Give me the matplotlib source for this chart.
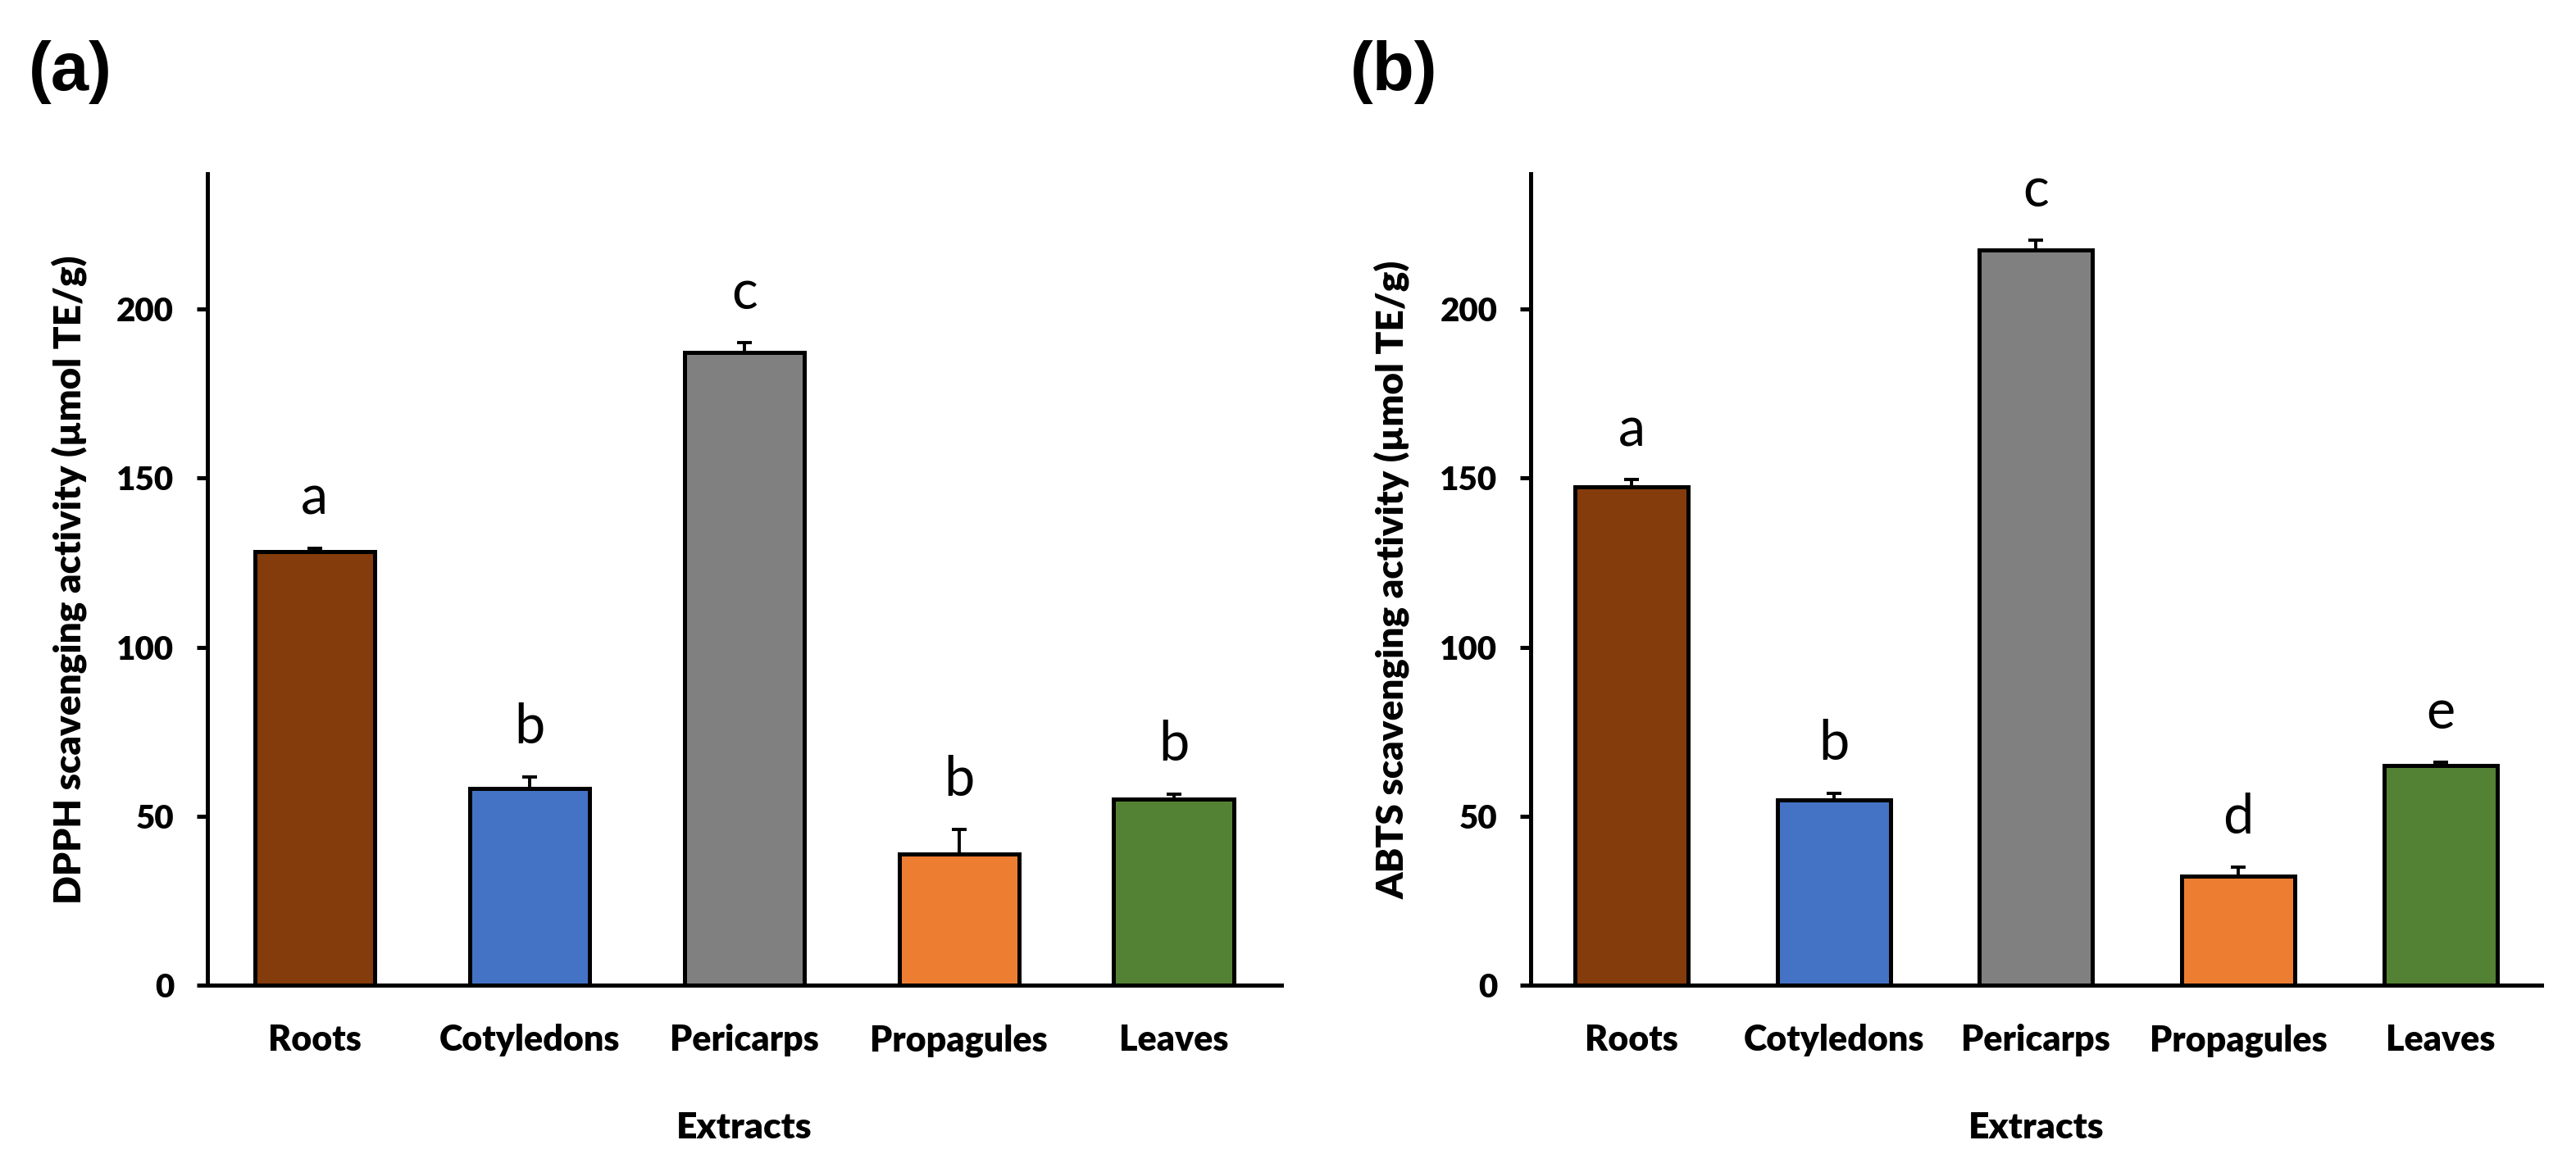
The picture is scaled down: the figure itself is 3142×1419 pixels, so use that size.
import numpy as np
import matplotlib
matplotlib.use('Agg')
import matplotlib.pyplot as plt

# Data
extracts = ['Roots', 'Cotyledons', 'Pericarps', 'Propagules', 'Leaves']
dpph_mean = [128.3, 58.2, 187.1, 38.7, 55.1]
dpph_err = [1.0, 3.3, 3.0, 7.4, 1.4]
dpph_letters = ['a', 'b', 'c', 'b', 'b']
abts_mean = [147.3, 54.7, 217.5, 32.2, 65.0]
abts_err = [2.2, 2.0, 2.8, 2.7, 1.0]
abts_letters = ['a', 'b', 'c', 'd', 'e']

bar_colors = ['#843C0C', '#4472C4', '#808080', '#ED7D31', '#548235']

plt.rcParams['font.family'] = ['Lato', 'DejaVu Sans']
heavy = 'heavy'


def draw_panel(ax, means, errs, letters, ylabel):
    x = np.arange(len(extracts))
    lower = np.zeros(len(errs))
    ax.bar(x, means, width=0.56, color=bar_colors, edgecolor='black',
           linewidth=1.8, zorder=3)
    ax.errorbar(x, means, yerr=[lower, errs], fmt='none', ecolor='black',
                elinewidth=1.4, capsize=3.4, capthick=1.4, zorder=2)
    for xi, m, e, lab in zip(x, means, errs, letters):
        ax.text(xi, m + e + 10, lab, ha='center', va='baseline',
                fontsize=24, color='black')

    ax.set_xlim(-0.5, 4.5)
    ax.set_ylim(0, 240)
    ax.set_yticks([0, 50, 100, 150, 200])
    ax.set_xticks(x)
    ax.set_xticklabels(extracts, fontsize=15.5, fontweight=heavy)
    ax.tick_params(axis='x', length=0, pad=17)
    ax.tick_params(axis='y', length=4.7, width=1.8, labelsize=14.5, pad=10)
    for lab in ax.get_yticklabels():
        lab.set_fontweight(heavy)
    ax.set_xlabel('Extracts', fontsize=16, fontweight=heavy, labelpad=24)
    ax.set_ylabel(ylabel, fontsize=16.5, fontweight=heavy, labelpad=13)
    ax.spines['top'].set_visible(False)
    ax.spines['right'].set_visible(False)
    ax.spines['left'].set_linewidth(1.8)
    ax.spines['bottom'].set_linewidth(1.8)


fig = plt.figure(figsize=(15.71, 7.095), dpi=200)
ax1 = fig.add_axes([0.0805, 0.1529, 0.4169, 0.6977])
ax2 = fig.add_axes([0.5942, 0.1529, 0.3924, 0.6977])

draw_panel(ax1, dpph_mean, dpph_err, dpph_letters,
           'DPPH scavenging activity (µmol TE/g)')
draw_panel(ax2, abts_mean, abts_err, abts_letters,
           'ABTS scavenging activity (µmol TE/g)')

panel_font = ['Liberation Sans', 'DejaVu Sans']
fig.text(0.0111, 0.938, '(a)', fontsize=30, fontweight='bold',
         family=panel_font, ha='left', va='center')
fig.text(0.524, 0.938, '(b)', fontsize=30, fontweight='bold',
         family=panel_font, ha='left', va='center')

fig.savefig('out.png', dpi=200, facecolor='white')
